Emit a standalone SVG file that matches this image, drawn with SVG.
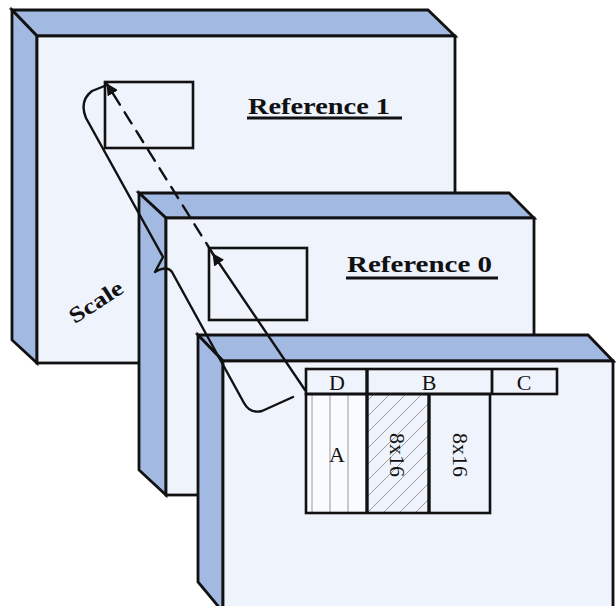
<svg xmlns="http://www.w3.org/2000/svg" width="616" height="606" viewBox="0 0 616 606">
  <style>
    .side { fill: #a2b9e2; stroke: #111; stroke-width: 2.8; stroke-linejoin: miter; }
    .face { fill: #eef3fc; stroke: #111; stroke-width: 2.8; }
    .box { fill: none; stroke: #111; stroke-width: 2.6; }
    .title { font-family: "Liberation Serif", "Times New Roman", serif; font-weight: bold; font-size: 23px; fill: #111; }
    .uline { stroke: #111; stroke-width: 2.8; }
    .cell { font-family: "Liberation Serif", "Times New Roman", serif; font-size: 22px; fill: #111; }
    .conn { fill: none; stroke: #111; stroke-width: 2.4; stroke-linejoin: round; stroke-linecap: round; }
    .thin { stroke: #999; stroke-width: 1; }
  </style>
  <defs>
    <marker id="arrow" viewBox="0 0 12 12" refX="11" refY="6" markerWidth="12" markerHeight="12" markerUnits="userSpaceOnUse" orient="auto">
      <path d="M0,0 L12,6 L0,12 z" fill="#111"/>
    </marker>
    <pattern id="hatch" patternUnits="userSpaceOnUse" width="16" height="16">
      <path d="M-1,1 L1,-1 M0,16 L16,0 M15,17 L17,15" stroke="#9a9a9a" stroke-width="1"/>
    </pattern>
  </defs>

  <!-- back slab: Reference 1 -->
  <g id="reference1">
    <polygon class="side" points="12,10 428,10 455,36 37,36"/>
    <polygon class="side" points="12,10 37,36 37,363 12,340"/>
    <rect class="face" x="37" y="36" width="418" height="327"/>
    <rect class="box" x="105" y="82" width="88" height="66"/>
    <text class="title" x="248" y="114" textLength="142" lengthAdjust="spacingAndGlyphs">Reference 1</text>
    <line class="uline" x1="247" y1="118" x2="402" y2="118"/>
  </g>

  <!-- middle slab: Reference 0 -->
  <g id="reference0">
    <polygon class="side" points="139,193 509,193 534,218 166,218"/>
    <polygon class="side" points="139,193 166,218 166,495 139,470"/>
    <rect class="face" x="166" y="218" width="368" height="277"/>
    <rect class="box" x="209" y="248" width="98" height="72"/>
    <text class="title" x="347" y="272" textLength="145" lengthAdjust="spacingAndGlyphs">Reference 0</text>
    <line class="uline" x1="346" y1="278" x2="498" y2="278"/>
  </g>

  <!-- scale label -->
  <g id="scale-label">
    <text class="cell" x="100" y="308" font-size="19" font-weight="bold" text-anchor="middle" textLength="60" lengthAdjust="spacingAndGlyphs" transform="rotate(-33 100 308)">Scale</text>
  </g>

  <!-- front slab: current frame with partition -->
  <g id="current">
    <polygon class="side" points="198,335 588,335 613,361 223,361"/>
    <polygon class="side" points="198,335 223,361 223,612 198,582"/>
    <rect class="face" x="223" y="361" width="390" height="250"/>
  </g>

  <g id="partition">
    <!-- lower cells -->
    <rect x="306" y="394" width="61" height="119" fill="#fafbfe"/>
    <line class="thin" x1="312" y1="394" x2="312" y2="513"/>
    <line class="thin" x1="330" y1="394" x2="330" y2="513"/>
    <line class="thin" x1="348" y1="394" x2="348" y2="513"/>
    <rect x="367" y="394" width="62" height="119" fill="url(#hatch)"/>
    <rect x="306" y="394" width="184" height="119" class="box"/>
    <line x1="367" y1="394" x2="367" y2="513" stroke="#111" stroke-width="3.4"/>
    <line x1="429" y1="394" x2="429" y2="513" stroke="#111" stroke-width="3.4"/>
    <!-- header row -->
    <rect x="306" y="369" width="251" height="25" class="box" fill="#eef3fc" stroke-width="2.8"/>
    <line x1="367" y1="369" x2="367" y2="394" stroke="#111" stroke-width="3.4"/>
    <line x1="492" y1="369" x2="492" y2="394" stroke="#111" stroke-width="2.8"/>
    <text class="cell" x="337" y="390" text-anchor="middle">D</text>
    <text class="cell" x="429" y="390" text-anchor="middle">B</text>
    <text class="cell" x="524" y="390" text-anchor="middle">C</text>
    <text class="cell" x="337" y="462" text-anchor="middle">A</text>
    <text class="cell" font-size="25" x="455" y="-390" text-anchor="middle" transform="rotate(90)">8x16</text>
    <text class="cell" font-size="25" x="455" y="-453" text-anchor="middle" transform="rotate(90)">8x16</text>
  </g>

  <!-- connectors -->
  <g id="connectors">
    <line class="conn" x1="305" y1="390" x2="213" y2="254" marker-end="url(#arrow)"/>
    <line class="conn" x1="213" y1="254" x2="107" y2="84" stroke-dasharray="13,9" marker-end="url(#arrow)"/>
    <path class="conn" d="M293,397 L262,411 Q250,414 244,403 L172,272 Q167,265 155,272 L163,257 L86,118 Q79,101 92,91 L107,85"/>
  </g>
</svg>
